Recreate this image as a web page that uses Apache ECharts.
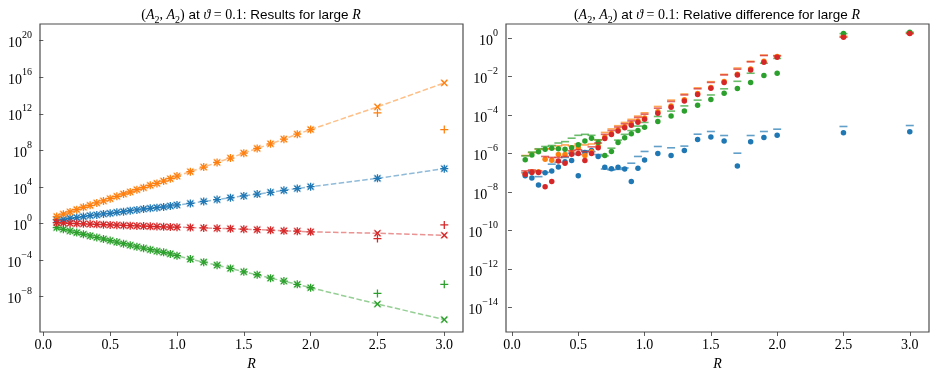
<!DOCTYPE html>
<html>
<head>
<meta charset="utf-8">
<script src="https://cdn.jsdelivr.net/npm/echarts@6/dist/echarts.min.js"></script>
<style>
  html, body { margin: 0; padding: 0; background: #fff; }
  #chart { width: 938px; height: 376px; }
</style>
</head>
<body>
<div id="chart"></div>
<script>
// radii, shared by both panels
const R = [0.1, 0.15, 0.2, 0.25, 0.3, 0.35, 0.4, 0.45, 0.5, 0.55, 0.6, 0.65, 0.7, 0.75, 0.8, 0.85, 0.9, 0.95, 1.0,
  1.1, 1.2, 1.3, 1.4, 1.5, 1.6, 1.7, 1.8, 1.9, 2.0, 2.5, 3.0]

const xTicks = [0, 0.5, 1, 1.5, 2, 2.5, 3]
const yTicksLeft = [1e-8, 1e-4, 1, 1e4, 1e8, 1e12, 1e16, 1e20]
const yTicksRight = [1e-14, 1e-12, 1e-10, 1e-8, 1e-6, 1e-4, 1e-2, 1]

// left panel: results (x markers + dashed line), + markers differ only at R = 2.5, 3.0
const blueCross = [2.63, 2.95, 3.80, 4.47, 5.75, 7.41, 8.71, 11.2, 13.2, 17.0, 20.0, 25.7, 30.9, 38.9, 46.8, 55.0, 64.6, 83.2, 107,
  158, 263, 417, 661, 1047, 1660, 2630, 4266, 6761, 10715, 87096, 1.0e6]
const bluePlusTail = [87096, 1.0e6]
const orangeCross = [5.75, 10.5, 18.6, 33.1, 60.3, 97.7, 178, 295, 525, 955, 1698, 2818, 5012, 8318, 15136, 24547, 44668, 79433, 154882,
  467735, 1.51e6, 4.79e6, 1.45e7, 5.01e7, 1.62e8, 5.25e8, 1.70e9, 5.89e9, 1.91e10, 5.75e12, 2.40e15]
const orangePlusTail = [1.26e12, 1.91e10]
const greenCross = [0.363, 0.234, 0.155, 0.102, 0.0676, 0.0447, 0.0302, 0.0204, 0.0138, 0.00933, 0.00631, 0.00427, 0.00288, 0.00200,
  0.00138, 0.000955, 0.000708, 0.000479, 0.000302,
  1.29e-4, 6.03e-5, 2.82e-5, 1.23e-5, 5.25e-6, 2.51e-6, 1.07e-6, 5.13e-7, 2.24e-7, 9.55e-8, 1.58e-9, 3.09e-11]
const greenPlusTail = [2.29e-8, 2.24e-7]
const redCross = [1.26, 1.15, 1.07, 1.0, 0.933, 0.871, 0.813, 0.759, 0.708, 0.661, 0.617, 0.589, 0.550, 0.525, 0.490, 0.468, 0.437, 0.417, 0.398,
  0.363, 0.331, 0.302, 0.275, 0.240, 0.214, 0.186, 0.158, 0.145, 0.123, 0.0871, 0.0525]
const redPlusTail = [0.0229, 0.708]

// right panel: relative differences, dots and dashes
const blueDot = [7.08e-8, 5.37e-8, 2.29e-8, 1.0e-7, 1.26e-7, 2.0e-7, 3.80e-7, 4.37e-7, 7.08e-8, 1.15e-6, 1.45e-6, 7.08e-7, 1.95e-7,
  1.62e-7, 1.95e-7, 1.58e-7, 3.55e-8, 1.74e-7, 4.68e-7, 1.02e-6, 7.94e-7, 1.45e-6, 5.37e-6, 7.24e-6, 4.57e-6, 2.29e-7,
  4.17e-6, 6.92e-6, 9.12e-6, 1.20e-5, 1.35e-5]
const blueDash = [1.0e-7, 1.12e-7, 6.31e-8, 1.05e-7, 2.82e-7, 3.55e-7, 6.31e-7, 1.05e-6, 8.91e-7, 1.41e-6, 1.26e-6, 8.91e-7, 1.58e-7,
  1.41e-7, 1.51e-7, 1.78e-7, 3.16e-7, 7.08e-7, 1.29e-6, 2.34e-6, 2.0e-6, 2.45e-6, 1.02e-5, 1.41e-5, 8.71e-6, 1.05e-6,
  8.71e-6, 1.41e-5, 1.86e-5, 2.57e-5, 2.88e-5]
const orangeDot = [8.91e-8, 1.12e-7, 1.12e-7, 5.01e-7, 4.47e-7, 8.91e-7, 8.91e-7, 1.12e-6, 2.0e-6, 7.94e-7, 1.26e-6, 2.40e-6, 7.08e-6,
  1.12e-5, 1.70e-5, 2.51e-5, 3.55e-5, 5.01e-5, 7.08e-5, 1.48e-4, 3.02e-4, 6.31e-4, 1.32e-3, 2.75e-3, 5.62e-3, 1.32e-2,
  2.51e-2, 6.31e-2, 0.112, 1.26, 1.82]
const orangeDash = [7.94e-7, 1.12e-6, 1.66e-6, 1.78e-6, 1.78e-6, 2.51e-6, 2.82e-6, 2.51e-6, 3.16e-6, 2.82e-6, 3.16e-6, 5.01e-6, 1.26e-5,
  1.91e-5, 2.82e-5, 4.17e-5, 6.03e-5, 8.91e-5, 1.32e-4, 2.82e-4, 6.03e-4, 1.26e-3, 2.63e-3, 5.50e-3, 1.32e-2, 2.82e-2,
  6.31e-2, 0.132, 0.126, 1.26, 1.82]
const greenDot = [4.79e-7, 8.32e-7, 1.26e-6, 1.70e-6, 1.91e-6, 1.78e-6, 1.70e-6, 2.0e-6, 2.88e-6, 4.47e-6, 6.31e-6, 3.80e-6, 7.94e-7,
  1.29e-6, 3.80e-6, 6.76e-6, 1.07e-5, 1.58e-5, 2.34e-5, 4.68e-5, 9.12e-5, 1.66e-4, 3.31e-4, 6.46e-4, 1.38e-3, 2.40e-3,
  5.01e-3, 1.15e-2, 1.51e-2, 1.74, 2.04]
const greenDash = [7.59e-7, 1.20e-6, 1.78e-6, 2.34e-6, 2.63e-6, 3.55e-6, 4.17e-6, 6.31e-6, 8.91e-6, 1.0e-5, 8.91e-6, 5.25e-6, 7.59e-7,
  1.91e-6, 5.01e-6, 1.0e-5, 1.58e-5, 2.69e-5, 4.17e-5, 8.51e-5, 1.62e-4, 3.02e-4, 6.03e-4, 1.12e-3, 2.34e-3, 5.75e-3,
  1.51e-2, 5.01e-2, 8.91e-2, 1.74, 2.04]
const redDot = [8.32e-8, 1.05e-7, 1.05e-7, 1.91e-8, 3.55e-8, 4.07e-7, 3.16e-7, 9.33e-7, 1.0e-6, 4.37e-7, 1.0e-6, 2.0e-6, 6.17e-6,
  9.77e-6, 1.48e-5, 2.19e-5, 3.02e-5, 4.27e-5, 6.17e-5, 1.26e-4, 2.57e-4, 5.50e-4, 1.17e-3, 2.51e-3, 5.01e-3, 1.23e-2,
  2.24e-2, 5.62e-2, 0.102, 1.12, 1.74]
const redDash = [1.26e-7, 1.41e-7, 1.26e-7, 7.08e-7, 6.31e-7, 6.31e-7, 7.08e-7, 1.41e-6, 1.58e-6, 1.26e-6, 2.24e-6, 3.55e-6, 1.0e-5,
  1.58e-5, 2.40e-5, 3.55e-5, 5.01e-5, 7.59e-5, 1.12e-4, 2.29e-4, 5.13e-4, 1.12e-3, 2.34e-3, 5.01e-3, 1.23e-2, 2.45e-2,
  5.89e-2, 0.126, 0.120, 1.12, 1.74]

const BLUE = '#1f77b4'
const ORANGE = '#ff7f0e'
const GREEN = '#2ca02c'
const RED = '#d62728'
const SERIF = "'Liberation Serif', 'DejaVu Serif', serif"
const SANS = "'Liberation Sans', 'DejaVu Sans', sans-serif"
const CROSS = 'path://M4.2,0H5.8V4.2H10V5.8H5.8V10H4.2V5.8H0V4.2H4.2Z'

function pts(ys) {
  return R.map((r, i) => [r, ys[i]])
}

function withTail(cross, tail) {
  return cross.slice(0, cross.length - tail.length).concat(tail)
}

function powLabel(v) {
  const e = Math.round(Math.log10(v))
  return '{b|10}{s|' + (e < 0 ? '\u2212' + (-e) : e) + '}'
}

const powRich = {
  b: { fontFamily: SERIF, fontSize: 14, color: '#000', lineHeight: 20, verticalAlign: 'bottom' },
  s: { fontFamily: SERIF, fontSize: 10, color: '#000', lineHeight: 10, verticalAlign: 'top' }
}

const titleRich = {
  m: { fontFamily: SERIF, fontWeight: 'normal', fontSize: 14, color: '#000', lineHeight: 20 },
  i: { fontFamily: SERIF, fontWeight: 'normal', fontStyle: 'italic', fontSize: 14, color: '#000', lineHeight: 20 },
  sub: { fontFamily: SERIF, fontWeight: 'normal', fontSize: 10, color: '#000', lineHeight: 14, verticalAlign: 'bottom' },
  t: { fontFamily: SANS, fontWeight: 'normal', fontSize: 13.5, color: '#000', lineHeight: 20 }
}

function makeTitle(text, cx) {
  return {
    text: '{m|(}{i|A}{sub|2}{m|, }{i|A}{sub|2}{m|)}{t| at }{i|\u03d1}{m| = 0.1}{t|: ' + text + ' }{i|R}',
    left: cx,
    top: 5,
    padding: 0,
    textAlign: 'center',
    textStyle: { fontWeight: 'normal', rich: titleRich }
  }
}

function makeX(idx, min, max) {
  return {
    type: 'value',
    gridIndex: idx,
    min: min,
    max: max,
    name: 'R',
    nameLocation: 'middle',
    nameGap: 25,
    nameTextStyle: { fontFamily: SERIF, fontStyle: 'italic', fontSize: 14, color: '#000' },
    axisLine: { show: false },
    splitLine: { show: false },
    axisTick: { show: true, length: 4, lineStyle: { color: '#333', width: 0.8 }, customValues: xTicks },
    axisLabel: {
      margin: 6,
      fontFamily: SERIF,
      fontSize: 14,
      color: '#000',
      customValues: xTicks,
      formatter: function(v) {
        return v.toFixed(1)
      }
    }
  }
}

function makeY(idx, min, max, ticks) {
  return {
    type: 'log',
    gridIndex: idx,
    min: min,
    max: max,
    axisLine: { show: false },
    splitLine: { show: false },
    minorTick: { show: false },
    axisTick: { show: true, length: 4, lineStyle: { color: '#333', width: 0.8 }, customValues: ticks },
    axisLabel: {
      margin: 8,
      customValues: ticks,
      formatter: powLabel,
      rich: powRich
    }
  }
}

const series = []

// left panel
const leftSets = [
  [BLUE, blueCross, withTail(blueCross, bluePlusTail)],
  [ORANGE, orangeCross, withTail(orangeCross, orangePlusTail)],
  [GREEN, greenCross, withTail(greenCross, greenPlusTail)],
  [RED, redCross, withTail(redCross, redPlusTail)]
]
leftSets.forEach(function(set) {
  const color = set[0]
  series.push({
    type: 'line',
    xAxisIndex: 0,
    yAxisIndex: 0,
    data: pts(set[1]),
    showAllSymbol: true,
    symbol: CROSS,
    symbolSize: 10,
    symbolRotate: 45,
    itemStyle: { color: color, opacity: 0.35 },
    lineStyle: { color: color, width: 1.5, type: [5.5, 2.4], opacity: 0.5 },
    z: 2
  })
  series.push({
    type: 'scatter',
    xAxisIndex: 0,
    yAxisIndex: 0,
    data: pts(set[2]),
    symbol: CROSS,
    symbolSize: 8,
    itemStyle: { color: color, opacity: 1 },
    z: 3
  })
  series.push({
    type: 'scatter',
    xAxisIndex: 0,
    yAxisIndex: 0,
    data: pts(set[1]),
    symbol: CROSS,
    symbolSize: 8,
    symbolRotate: 45,
    itemStyle: { color: color, opacity: 1 },
    z: 3
  })
})

// right panel
const rightSets = [
  [BLUE, blueDot, blueDash],
  [ORANGE, orangeDot, orangeDash],
  [GREEN, greenDot, greenDash],
  [RED, redDot, redDash]
]
rightSets.forEach(function(set) {
  series.push({
    type: 'scatter',
    xAxisIndex: 1,
    yAxisIndex: 1,
    data: pts(set[2]),
    symbol: 'rect',
    symbolSize: [8, 1.6],
    itemStyle: { color: set[0], opacity: 0.7 },
    z: 3
  })
  series.push({
    type: 'scatter',
    xAxisIndex: 1,
    yAxisIndex: 1,
    data: pts(set[1]),
    symbol: 'circle',
    symbolSize: 5.5,
    itemStyle: { color: set[0], opacity: 1 },
    z: 3
  })
})

const chart = echarts.init(document.getElementById('chart'), null, { renderer: 'canvas' })
chart.setOption({
  animation: false,
  backgroundColor: '#fff',
  title: [
    makeTitle('Results for large', 251),
    makeTitle('Relative difference for large', 717)
  ],
  grid: [
    { left: 40, top: 24, width: 423, height: 309, show: true, borderColor: '#4d4d4d', borderWidth: 1.2 },
    { left: 506, top: 24, width: 423, height: 309, show: true, borderColor: '#4d4d4d', borderWidth: 1.2 }
  ],
  xAxis: [makeX(0, -0.025, 3.14), makeX(1, -0.045, 3.145)],
  yAxis: [
    makeY(0, Math.pow(10, -11.86), Math.pow(10, 21.82), yTicksLeft),
    makeY(1, Math.pow(10, -15.28), Math.pow(10, 0.74), yTicksRight)
  ],
  series: series
})
</script>
</body>
</html>
